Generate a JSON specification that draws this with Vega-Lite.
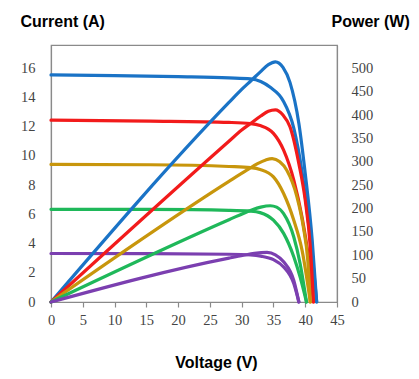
{
  "$schema": "https://vega.github.io/schema/vega-lite/v6.json",
  "width": 286,
  "height": 257,
  "autosize": {"type": "none"},
  "padding": {"left": 51, "top": 45, "right": 82, "bottom": 77},
  "background": "white",
  "config": {
    "view": {"stroke": "#8a8a8a", "strokeWidth": 1.2},
    "axis": {
      "labelFont": "Liberation Serif",
      "labelFontSize": 14.5,
      "labelColor": "#444444",
      "labelFlush": false,
      "labelOverlap": false,
      "titleFont": "Liberation Sans",
      "titleFontSize": 16,
      "titleFontWeight": "bold",
      "titleColor": "#000000",
      "domainColor": "#8a8a8a",
      "domainWidth": 1.2,
      "tickColor": "#8a8a8a",
      "tickWidth": 1.2,
      "grid": false
    }
  },
  "datasets": {
    "cur": [
      {"s": "blue", "v": 0, "i": 15.55}, {"s": "blue", "v": 10, "i": 15.5}, {"s": "blue", "v": 20, "i": 15.43}, {"s": "blue", "v": 28, "i": 15.35}, {"s": "blue", "v": 31.4, "i": 15.28}, {"s": "blue", "v": 33, "i": 15.1}, {"s": "blue", "v": 34.5, "i": 14.7}, {"s": "blue", "v": 36.5, "i": 13.8}, {"s": "blue", "v": 38.2, "i": 11.9}, {"s": "blue", "v": 39.5, "i": 8.9}, {"s": "blue", "v": 40.5, "i": 5.5}, {"s": "blue", "v": 41.2, "i": 2.8}, {"s": "blue", "v": 41.8, "i": 0},
      {"s": "red", "v": 0, "i": 12.45}, {"s": "red", "v": 15.6, "i": 12.39}, {"s": "red", "v": 28, "i": 12.3}, {"s": "red", "v": 31.4, "i": 12.22}, {"s": "red", "v": 32.9, "i": 12.08}, {"s": "red", "v": 35, "i": 11.55}, {"s": "red", "v": 36.6, "i": 10.4}, {"s": "red", "v": 38.2, "i": 8.35}, {"s": "red", "v": 39.5, "i": 5.8}, {"s": "red", "v": 40.5, "i": 3.1}, {"s": "red", "v": 41.3, "i": 0},
      {"s": "gold", "v": 0, "i": 9.42}, {"s": "gold", "v": 15.6, "i": 9.4}, {"s": "gold", "v": 28, "i": 9.28}, {"s": "gold", "v": 31.4, "i": 9.2}, {"s": "gold", "v": 32.9, "i": 9.08}, {"s": "gold", "v": 35, "i": 8.57}, {"s": "gold", "v": 36.6, "i": 7.43}, {"s": "gold", "v": 38.2, "i": 5.6}, {"s": "gold", "v": 39.5, "i": 3.55}, {"s": "gold", "v": 40.8, "i": 0},
      {"s": "green", "v": 0, "i": 6.35}, {"s": "green", "v": 15.6, "i": 6.34}, {"s": "green", "v": 28, "i": 6.28}, {"s": "green", "v": 31.4, "i": 6.22}, {"s": "green", "v": 32.9, "i": 6.12}, {"s": "green", "v": 35, "i": 5.6}, {"s": "green", "v": 36.6, "i": 4.7}, {"s": "green", "v": 38.2, "i": 3.1}, {"s": "green", "v": 39.2, "i": 1.7}, {"s": "green", "v": 40.2, "i": 0},
      {"s": "purple", "v": 0, "i": 3.32}, {"s": "purple", "v": 15.6, "i": 3.31}, {"s": "purple", "v": 28, "i": 3.27}, {"s": "purple", "v": 31.4, "i": 3.22}, {"s": "purple", "v": 33, "i": 3.14}, {"s": "purple", "v": 35, "i": 2.9}, {"s": "purple", "v": 36.6, "i": 2.4}, {"s": "purple", "v": 38.2, "i": 1.26}, {"s": "purple", "v": 39.0, "i": 0}
    ],
    "pow": [
      {"s": "blue", "v": 0, "p": 0}, {"s": "blue", "v": 28, "p": 427}, {"s": "blue", "v": 30, "p": 455}, {"s": "blue", "v": 31.5, "p": 474}, {"s": "blue", "v": 32.9, "p": 492}, {"s": "blue", "v": 34.2, "p": 508}, {"s": "blue", "v": 35.3, "p": 514}, {"s": "blue", "v": 36.5, "p": 502}, {"s": "blue", "v": 37.6, "p": 470}, {"s": "blue", "v": 39, "p": 382}, {"s": "blue", "v": 40, "p": 275}, {"s": "blue", "v": 41.1, "p": 132}, {"s": "blue", "v": 41.8, "p": 0},
      {"s": "red", "v": 0, "p": 0}, {"s": "red", "v": 28, "p": 344}, {"s": "red", "v": 30, "p": 368}, {"s": "red", "v": 31.4, "p": 382}, {"s": "red", "v": 33, "p": 398}, {"s": "red", "v": 34.2, "p": 408}, {"s": "red", "v": 35.3, "p": 411}, {"s": "red", "v": 36.5, "p": 400}, {"s": "red", "v": 37.6, "p": 375}, {"s": "red", "v": 39, "p": 296}, {"s": "red", "v": 40, "p": 218}, {"s": "red", "v": 40.8, "p": 118}, {"s": "red", "v": 41.3, "p": 0},
      {"s": "gold", "v": 0, "p": 0}, {"s": "gold", "v": 28, "p": 258}, {"s": "gold", "v": 30.8, "p": 282}, {"s": "gold", "v": 32.5, "p": 296}, {"s": "gold", "v": 33.8, "p": 304}, {"s": "gold", "v": 34.8, "p": 307}, {"s": "gold", "v": 36, "p": 300}, {"s": "gold", "v": 37.1, "p": 282}, {"s": "gold", "v": 38.7, "p": 225}, {"s": "gold", "v": 39.7, "p": 161}, {"s": "gold", "v": 40.4, "p": 89}, {"s": "gold", "v": 40.8, "p": 0},
      {"s": "green", "v": 0, "p": 0}, {"s": "green", "v": 28, "p": 176}, {"s": "green", "v": 31.4, "p": 196}, {"s": "green", "v": 33, "p": 203}, {"s": "green", "v": 34.5, "p": 206}, {"s": "green", "v": 35.5, "p": 203}, {"s": "green", "v": 36.6, "p": 189}, {"s": "green", "v": 38.2, "p": 139}, {"s": "green", "v": 39.2, "p": 82}, {"s": "green", "v": 40.2, "p": 0},
      {"s": "purple", "v": 0, "p": 0}, {"s": "purple", "v": 28, "p": 94}, {"s": "purple", "v": 30.3, "p": 100}, {"s": "purple", "v": 32, "p": 104}, {"s": "purple", "v": 34, "p": 106}, {"s": "purple", "v": 35.3, "p": 101}, {"s": "purple", "v": 36.6, "p": 86}, {"s": "purple", "v": 38.2, "p": 46}, {"s": "purple", "v": 39.0, "p": 0}
    ]
  },
  "encoding": {
    "x": {
      "field": "v", "type": "quantitative",
      "scale": {"domain": [0, 45], "nice": false},
      "axis": {
        "values": [0, 5, 10, 15, 20, 25, 30, 35, 40, 45],
        "title": "Voltage (V)",
        "tickSize": 5, "labelPadding": 6, "labelOverlap": false,
        "titleX": 165, "titleY": 65, "titleAlign": "center", "titleBaseline": "alphabetic"
      }
    },
    "detail": {"field": "s"},
    "color": {
      "field": "s", "type": "nominal",
      "scale": {"domain": ["blue", "red", "gold", "green", "purple"], "range": ["#1a73c6", "#f21b1b", "#c8960c", "#1fb85a", "#7b3fb0"]},
      "legend": null
    },
    "strokeWidth": {
      "field": "s", "type": "nominal",
      "scale": {"domain": ["blue", "red", "gold", "green", "purple"], "range": [3.2, 3.2, 3.2, 2.3, 2.3]},
      "legend": null
    }
  },
  "layer": [
    {
      "data": {"name": "cur"},
      "mark": {"type": "line", "interpolate": "monotone", "strokeCap": "round"},
      "encoding": {
        "y": {
          "field": "i", "type": "quantitative",
          "scale": {"domain": [0, 17.6], "nice": false},
          "axis": {
            "orient": "left",
            "values": [0, 2, 4, 6, 8, 10, 12, 14, 16],
            "ticks": false, "tickSize": 0, "labelPadding": 16,
            "title": "Current (A)", "titleAngle": 0,
            "titleX": -31, "titleY": -19, "titleAlign": "left", "titleBaseline": "alphabetic"
          }
        }
      }
    },
    {
      "data": {"name": "pow"},
      "mark": {"type": "line", "interpolate": "monotone", "strokeCap": "round"},
      "encoding": {
        "y": {
          "field": "p", "type": "quantitative",
          "scale": {"domain": [0, 550], "nice": false},
          "axis": {
            "orient": "right",
            "values": [0, 50, 100, 150, 200, 250, 300, 350, 400, 450, 500],
            "ticks": false, "tickSize": 0, "labelPadding": 14,
            "title": "Power (W)", "titleAngle": 0,
            "titleX": -6, "titleY": -19, "titleAlign": "left", "titleBaseline": "alphabetic"
          }
        }
      }
    }
  ],
  "resolve": {"scale": {"y": "independent"}}
}
